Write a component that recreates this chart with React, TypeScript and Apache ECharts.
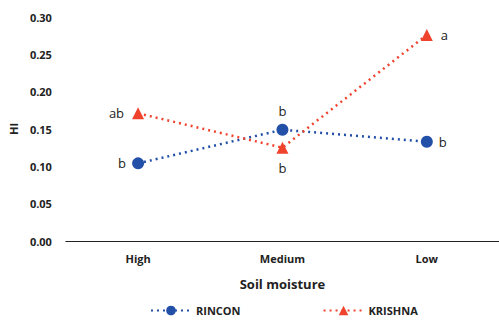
import React, { useEffect, useRef } from "react";
import * as echarts from "echarts";

const categories = ["High", "Medium", "Low"];
const rincon = [0.104, 0.149, 0.133];
const krishna = [0.171, 0.125, 0.276];
const rinconLetters = ["b", "b", "b"];
const krishnaLetters = ["ab", "b", "a"];
const rinconPos = ["left", "top", "right"];
const krishnaPos = ["left", "bottom", "right"];

const FONT = "'Open Sans', 'Liberation Sans', sans-serif";

export default function App() {
  const ref = useRef<HTMLDivElement>(null);
  useEffect(() => {
    if (!ref.current) return;
    const chart = echarts.init(ref.current, undefined, { renderer: "svg" });
    const labelStyle = { fontFamily: FONT, fontSize: 13, color: "#222" };
    chart.setOption({
      animation: false,
      grid: { left: 64, right: -2, top: 17, bottom: 79 },
      xAxis: {
        type: "category",
        data: categories,
        axisLine: { lineStyle: { color: "#222", width: 1.2 } },
        axisTick: { show: false },
        axisLabel: { fontFamily: FONT, fontSize: 11, fontWeight: "bold", color: "#222", margin: 12 },
        name: "Soil moisture",
        nameLocation: "middle",
        nameGap: 36,
        nameTextStyle: { fontFamily: FONT, fontSize: 13, fontWeight: "bold", color: "#222" },
      },
      yAxis: {
        type: "value",
        min: 0,
        max: 0.3,
        interval: 0.05,
        axisLine: { show: false },
        axisTick: { show: false },
        splitLine: { show: false },
        axisLabel: {
          fontFamily: FONT,
          fontSize: 11,
          fontWeight: "bold",
          color: "#222",
          margin: 14,
          formatter: (v: number) => v.toFixed(2),
        },
        name: "HI",
        nameLocation: "middle",
        nameGap: 46,
        nameTextStyle: { fontFamily: FONT, fontSize: 11, fontWeight: "bold", color: "#222" },
      },
      legend: {
        top: 305,
        left: 150,
        padding: 0,
        itemGap: 82,
        itemWidth: 40,
        itemHeight: 12,
        textStyle: { fontFamily: FONT, fontSize: 11, fontWeight: "bold", color: "#222" },
        data: ["RINCON", "KRISHNA"],
      },
      series: [
        {
          name: "RINCON",
          type: "line",
          data: rincon.map((v, i) => ({
            value: v,
            label: { show: true, position: rinconPos[i], formatter: rinconLetters[i], distance: 6, ...labelStyle },
          })),
          symbol: "circle",
          symbolSize: 12,
          itemStyle: { color: "#2250A8" },
          lineStyle: { color: "#2250A8", width: 2.5, type: [2, 4] },
        },
        {
          name: "KRISHNA",
          type: "line",
          data: krishna.map((v, i) => ({
            value: v,
            label: { show: true, position: krishnaPos[i], formatter: krishnaLetters[i], distance: 8, ...labelStyle },
          })),
          symbol: "triangle",
          symbolSize: 12,
          itemStyle: { color: "#F0432E" },
          lineStyle: { color: "#F0432E", width: 2.5, type: [2, 4] },
        },
      ],
    });
    return () => chart.dispose();
  }, []);
  return (
    <div
      ref={ref}
      style={{ position: "fixed", left: 0, top: 0, width: 499, height: 320, background: "#fff" }}
    />
  );
}
